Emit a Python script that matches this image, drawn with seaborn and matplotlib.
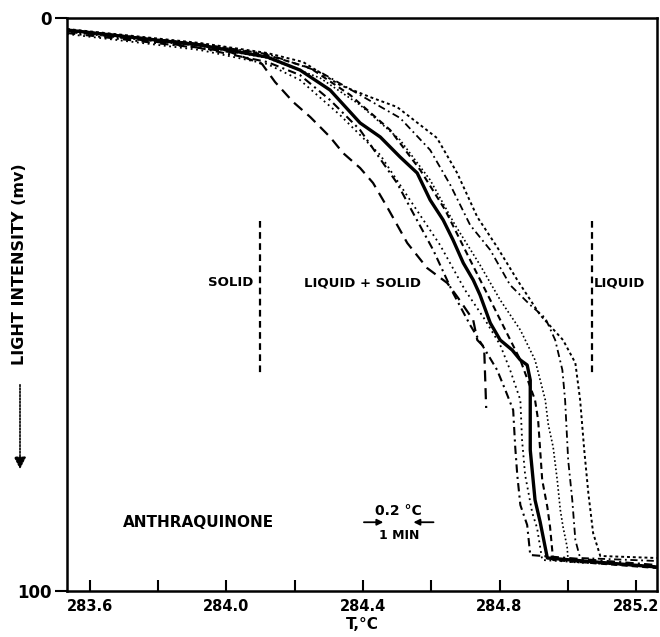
import matplotlib
matplotlib.use("Agg")
import matplotlib.pyplot as plt
import seaborn as sns
import pandas as pd

# ---- data (temperature in deg C, light-intensity drop in % of full scale) ----
run_a_T = [283.534, 283.923, 284.120, 284.225, 284.333, 284.421, 284.500, 284.568, 284.617, 284.676, 284.735,
           284.793, 284.852, 284.919, 284.986, 285.022, 285.036, 285.048, 285.060, 285.074, 285.095, 285.26]
run_a_v = [1.92, 4.36, 6.11, 7.68, 11.69, 13.79, 15.53, 18.67, 20.94, 27.05, 34.73,
           39.97, 45.72, 51.83, 56.20, 60.21, 66.67, 75.39, 82.90, 89.88, 93.89, 94.24]

run_b_T = [283.534, 283.777, 284.011, 284.105, 284.143, 284.196, 284.246, 284.304, 284.342, 284.392, 284.430,
           284.471, 284.530, 284.588, 284.647, 284.679, 284.723, 284.735, 284.755, 284.761]
run_b_v = [2.27, 4.01, 5.93, 8.03, 11.17, 14.66, 17.28, 20.77, 23.56, 26.18, 28.80,
           32.98, 39.27, 43.63, 46.25, 48.87, 52.71, 56.20, 57.42, 68.06]

run_c_T = [283.534, 283.923, 284.120, 284.216, 284.304, 284.392, 284.451, 284.509, 284.559, 284.597, 284.635,
           284.664, 284.694, 284.723, 284.743, 284.773, 284.802, 284.837, 284.861, 284.881, 284.890, 284.890,
           284.904, 284.919, 284.940, 285.26]
run_c_v = [2.09, 4.71, 6.81, 9.08, 12.57, 18.32, 20.77, 24.26, 27.05, 31.76, 35.25,
           38.74, 42.76, 45.72, 48.34, 53.23, 56.20, 57.94, 59.69, 60.56, 63.18, 75.39,
           84.12, 87.96, 94.24, 95.81]

run_d_T = [283.534, 283.923, 284.120, 284.216, 284.304, 284.392, 284.500, 284.547, 284.606, 284.664, 284.714,
           284.758, 284.793, 284.817, 284.840, 284.846, 284.852, 284.861, 284.881, 284.890, 285.26]
run_d_v = [2.62, 5.24, 7.68, 9.95, 14.31, 19.55, 28.80, 34.03, 40.49, 47.99, 53.58,
           57.94, 61.43, 64.92, 68.41, 74.87, 79.76, 84.99, 88.48, 93.72, 95.46]

run_e_T = [283.534, 283.923, 284.120, 284.216, 284.333, 284.451, 284.538, 284.626, 284.699, 284.758, 284.802,
           284.831, 284.861, 284.866, 284.875, 284.896, 284.910, 284.925, 285.26]
run_e_v = [2.79, 5.58, 8.03, 10.82, 16.93, 23.91, 31.76, 39.62, 47.47, 52.71, 57.07,
           61.43, 66.67, 73.65, 79.76, 86.39, 89.01, 94.59, 95.81]

run_f_T = [283.534, 283.923, 284.120, 284.246, 284.363, 284.480, 284.568, 284.641, 284.714, 284.773, 284.817,
           284.861, 284.904, 284.913, 284.919, 284.925, 284.940, 284.948, 284.957, 285.26]
run_f_v = [2.09, 4.54, 6.46, 8.73, 13.44, 19.55, 26.53, 33.51, 42.23, 49.21, 54.45,
           59.69, 66.67, 70.16, 75.39, 80.63, 85.34, 88.83, 94.59, 95.99]

run_g_T = [283.534, 283.923, 284.120, 284.275, 284.392, 284.509, 284.597, 284.670, 284.743, 284.802, 284.861,
           284.904, 284.934, 284.943, 284.957, 284.969, 284.978, 284.986, 284.998, 285.001, 285.26]
run_g_v = [2.44, 4.89, 6.98, 10.47, 15.18, 21.29, 28.27, 36.13, 43.11, 49.21, 54.45,
           59.69, 66.67, 71.03, 74.87, 80.63, 85.86, 88.83, 92.32, 94.94, 95.64]

run_h_T = [283.534, 283.923, 284.120, 284.275, 284.392, 284.509, 284.597, 284.656, 284.714, 284.773, 284.831,
           284.890, 284.934, 284.963, 284.984, 284.992, 285.001, 285.013, 285.022, 285.036, 285.26]
run_h_v = [2.09, 4.54, 6.28, 9.42, 13.44, 17.45, 23.04, 29.14, 36.13, 40.49, 46.60,
           50.09, 52.36, 56.20, 61.43, 66.67, 77.14, 84.12, 91.10, 94.24, 94.76]

phase_T = [284.10, 285.07]          # solid / liquid boundaries
phase_v_range = [35.5, 62.0]

x_ticks = [283.6, 283.8, 284.0, 284.2, 284.4, 284.6, 284.8, 285.0, 285.2]
x_tick_labels = ["283.6", "", "284.0", "", "284.4", "", "284.8", "", "285.2"]
y_ticks = [0, 100]
y_tick_labels = ["0", "100"]

runs = {
    "a": (run_a_T, run_a_v), "b": (run_b_T, run_b_v), "c": (run_c_T, run_c_v),
    "d": (run_d_T, run_d_v), "e": (run_e_T, run_e_v), "f": (run_f_T, run_f_v),
    "g": (run_g_T, run_g_v), "h": (run_h_T, run_h_v),
}
rows = []
for name, (ts, vs) in runs.items():
    for i, (t, v) in enumerate(zip(ts, vs)):
        rows.append({"run": name, "order": i, "T": t, "v": v})
df = pd.DataFrame(rows)

styles = {
    "a": dict(linestyle=(0, (1.5, 1.5)), linewidth=1.4),
    "b": dict(linestyle=(0, (5, 3)), linewidth=1.6),
    "c": dict(linestyle="-", linewidth=2.4),
    "d": dict(linestyle=(0, (4, 2, 1, 2)), linewidth=1.5),
    "e": dict(linestyle=(0, (1, 2)), linewidth=1.3),
    "f": dict(linestyle=(0, (3, 2)), linewidth=1.5),
    "g": dict(linestyle=(0, (1, 1.5)), linewidth=1.2),
    "h": dict(linestyle=(0, (4, 2, 1, 2)), linewidth=1.3),
}

sns.set_style("ticks")
plt.rcParams["font.family"] = ["DejaVu Sans"]
plt.rcParams["font.weight"] = "bold"
for key in ["text.color", "axes.labelcolor", "xtick.color", "ytick.color", "axes.edgecolor"]:
    plt.rcParams[key] = "black"

fig = plt.figure(figsize=(6.6, 6.37), dpi=100)
ax = fig.add_axes([67 / 660, 1 - 591 / 637, 590 / 660, 573 / 637])

for name, sub in df.groupby("run"):
    sns.lineplot(data=sub, x="T", y="v", sort=False, estimator=None, ax=ax,
                 color="black", legend=False, **styles[name])

for t in phase_T:
    ax.plot([t, t], phase_v_range, color="black", linestyle=(0, (3, 2)), linewidth=1.6)

ax.set_xlim(283.534, 285.261)
ax.set_ylim(100, 0)
ax.set_xticks(x_ticks)
ax.set_xticklabels(x_tick_labels, fontsize=10.5, fontweight="bold")
ax.set_yticks(y_ticks)
ax.set_yticklabels(y_tick_labels, fontsize=12, fontweight="bold")
ax.tick_params(axis="x", direction="in", length=8, width=1.5, pad=6)
ax.tick_params(axis="y", direction="out", length=9, width=1.5, pad=2)
for s in ax.spines.values():
    s.set_visible(True)
    s.set_linewidth(1.8)
    s.set_color("black")
ax.set_xlabel("T,°C", fontsize=11, fontweight="bold", labelpad=2)
ax.set_ylabel("")

txt = dict(fontsize=9.5, fontweight="bold", va="center", color="black")
ax.text(284.079, 46.2, "SOLID", ha="right", **txt)
ax.text(284.228, 46.2, "LIQUID + SOLID", ha="left", **txt)
ax.text(285.075, 46.2, "LIQUID", ha="left", **txt)
ax.text(283.698, 88.0, "ANTHRAQUINONE", ha="left", fontsize=11, fontweight="bold", va="center")
ax.text(284.505, 86.0, "0.2 °C", ha="center", fontsize=10, fontweight="bold", va="center")
ax.text(284.505, 90.3, "1 MIN", ha="center", fontsize=9, fontweight="bold", va="center")
ax.annotate("", xy=(284.468, 88.0), xytext=(284.395, 88.0),
            arrowprops=dict(arrowstyle="-|>", color="black", lw=1.3, mutation_scale=9))
ax.annotate("", xy=(284.540, 88.0), xytext=(284.615, 88.0),
            arrowprops=dict(arrowstyle="-|>", color="black", lw=1.3, mutation_scale=9))

fig.text(20 / 660, 1 - 264 / 637, "LIGHT INTENSITY (mv)", rotation=90, ha="center", va="center",
         fontsize=11.5, fontweight="bold", color="black")
fig.patches.append(matplotlib.patches.FancyArrowPatch(
    (20 / 660, 1 - 382 / 637), (20 / 660, 1 - 472 / 637), transform=fig.transFigure,
    arrowstyle="-|>", mutation_scale=18, color="black", lw=1.2, linestyle=(0, (1, 1))))

fig.savefig("out.png", dpi=100)
